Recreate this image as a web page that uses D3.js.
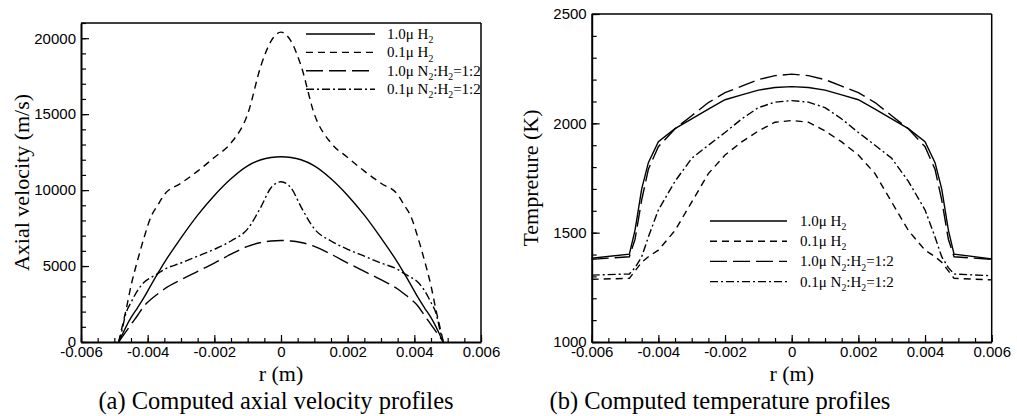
<!DOCTYPE html>
<html><head><meta charset="utf-8">
<script src="https://cdn.jsdelivr.net/npm/d3@7"></script>
<style>body{margin:0;background:#fff}svg{display:block}</style>
</head><body>
<svg id="c" width="1017" height="416"></svg>
<script>
// ---------- data ----------
const legendLabels = ["1.0μ H_2", "0.1μ H_2", "1.0μ N_2:H_2=1:2", "0.1μ N_2:H_2=1:2"];

const rV = [-0.00487,-0.0048,-0.00465,-0.0045,-0.0043,-0.0041,-0.0039,-0.0037,-0.0035,-0.003,-0.0025,-0.002,-0.0015,-0.001,-0.0006,-0.0003,0,
            0.0003,0.0006,0.001,0.0015,0.002,0.0025,0.003,0.0035,0.0037,0.0039,0.0041,0.0043,0.0045,0.00465,0.0048,0.00487];
const vel10H2 = [0,300,1000,1600,2270,2970,3750,4500,5230,6850,8350,9650,10750,11600,12000,12150,12200,
                 12150,12000,11600,10750,9650,8350,6850,5230,4500,3750,2970,2270,1600,1000,300,0];
const vel01H2 = [0,680,2100,3700,5400,6930,8250,9000,9700,10450,11250,12150,13100,15000,18200,19800,20400,
                 19800,18200,15000,13100,12150,11250,10450,9700,9000,8250,6930,5400,3700,2100,680,0];
const vel10N2 = [0,220,680,1150,1760,2390,2810,3160,3490,4100,4650,5200,5780,6300,6550,6650,6680,
                 6650,6550,6300,5780,5200,4650,4100,3490,3160,2810,2390,1760,1150,680,220,0];
const vel01N2 = [0,500,1900,2600,3400,3950,4250,4500,4780,5200,5650,6100,6650,7450,8900,10150,10550,
                 10150,8900,7450,6650,6100,5650,5200,4780,4500,4250,3950,3400,2600,1900,500,0];

const rT = [-0.006,-0.00487,-0.0047,-0.0045,-0.0043,-0.004,-0.0035,-0.003,-0.0025,-0.002,-0.0015,-0.001,-0.0005,0,
            0.0005,0.001,0.0015,0.002,0.0025,0.003,0.0035,0.004,0.0043,0.0045,0.0047,0.00487,0.006];
const temp10H2 = [1383,1402,1512,1700,1820,1916,1976,2020,2065,2108,2130,2152,2164,2168,
                  2164,2152,2130,2108,2065,2020,1976,1916,1820,1700,1512,1402,1380];
const temp01H2 = [1287,1291,1325,1365,1390,1420,1510,1640,1770,1855,1915,1965,2005,2013,
                  2005,1965,1915,1855,1770,1640,1510,1420,1390,1365,1325,1291,1284];
const temp10N2 = [1378,1390,1470,1650,1790,1893,1975,2035,2095,2140,2170,2200,2218,2225,
                  2218,2200,2170,2140,2095,2035,1975,1893,1790,1650,1470,1390,1378];
const temp01N2 = [1306,1311,1340,1390,1480,1604,1735,1840,1900,1958,2020,2072,2097,2104,
                  2097,2072,2020,1958,1900,1840,1735,1604,1480,1390,1340,1311,1303];

const xTickLabels = [-0.006,-0.004,-0.002,0,0.002,0.004,0.006];
const velTicks = [0,5000,10000,15000,20000];
const tempTicks = [1000,1500,2000,2500];

// ---------- drawing ----------
const svg = d3.select("#c");
const serif = "'Liberation Serif','Times New Roman',Times,serif";
const sans = "'Liberation Sans',Arial,Helvetica,sans-serif";
const dashes = [null, "7,5", "17,6", "8,3,2,3"];

function addLabel(sel, label, size) {
  const parts = label.split(/_(\d)/);
  let sub = false;
  parts.forEach((p, i) => {
    if (p === "") return;
    const isSub = i % 2 === 1;
    const t = sel.append("tspan").text(p);
    if (isSub) { t.attr("font-size", size * 0.65).attr("dy", size * 0.28); sub = true; }
    else if (sub) { t.attr("dy", -size * 0.28); sub = false; }
  });
}

function panel(o) {
  const g = svg.append("g");
  const x = d3.scaleLinear().domain([-0.006, 0.006]).range([o.x0, o.x1]);
  const y = d3.scaleLinear().domain(o.yDomain).range([o.y0, o.y1]);

  // frame top/right
  g.append("line").attr("x1", o.x0).attr("x2", o.x1).attr("y1", o.y1).attr("y2", o.y1)
    .attr("stroke", "#000").attr("stroke-width", 1.5);
  g.append("line").attr("x1", o.x1).attr("x2", o.x1).attr("y1", o.y1).attr("y2", o.y0)
    .attr("stroke", "#000").attr("stroke-width", 1.5);

  // minor ticks
  const xMinor = d3.range(-0.006, 0.00601, 0.0005);
  g.append("g").attr("transform", `translate(0,${o.y0})`)
    .call(d3.axisBottom(x).tickValues(xMinor).tickSize(-4).tickFormat(""))
    .call(a => a.select(".domain").remove());
  g.append("g").attr("transform", `translate(${o.x0},0)`)
    .call(d3.axisLeft(y).tickValues(o.yMinor).tickSize(-5).tickFormat(""))
    .call(a => a.select(".domain").remove());

  // major axes
  const xa = g.append("g").attr("transform", `translate(0,${o.y0})`)
    .call(d3.axisBottom(x).tickValues(xTickLabels).tickSize(-7).tickPadding(4)
      .tickSizeOuter(0).tickFormat(d => d === 0 ? "0" : d.toFixed(3)));
  const ya = g.append("g").attr("transform", `translate(${o.x0},0)`)
    .call(d3.axisLeft(y).tickValues(o.yTicks).tickSize(-8).tickPadding(5).tickSizeOuter(0).tickFormat(d => String(d)));
  [xa, ya].forEach(a => {
    a.select(".domain").attr("stroke-width", 2);
    a.selectAll("text").attr("font-family", sans).attr("font-size", 15).attr("fill", "#000");
  });
  g.selectAll(".tick line").attr("stroke-width", 1.2);

  // curves
  const line = d3.line().x(d => x(d[0])).y(d => y(d[1])).curve(o.curve);
  o.series.forEach((vals, i) => {
    const pts = o.r.map((r, k) => [r, vals[k]]);
    g.append("path").attr("d", line(pts)).attr("fill", "none").attr("stroke", "#000")
      .attr("stroke-width", 1.4).attr("stroke-dasharray", dashes[i]);
  });

  // legend
  legendLabels.forEach((lab, i) => {
    const ly = o.leg.y + i * o.leg.dy;
    g.append("line").attr("x1", o.leg.x1).attr("x2", o.leg.x2).attr("y1", ly).attr("y2", ly)
      .attr("stroke", "#000").attr("stroke-width", 1.4).attr("stroke-dasharray", dashes[i]);
    const t = g.append("text").attr("x", o.leg.tx).attr("y", ly + 5)
      .attr("font-family", serif).attr("font-size", 15);
    addLabel(t, lab, 15);
  });

  // axis titles
  g.append("text").attr("x", (o.x0 + o.x1) / 2).attr("y", 381).attr("text-anchor", "middle")
    .attr("font-family", serif).attr("font-size", 22).text("r (m)");
  g.append("text").attr("transform", `translate(${o.ytx},${(o.y0 + o.y1) / 2}) rotate(-90)`)
    .attr("text-anchor", "middle").attr("font-family", serif).attr("font-size", 22).text(o.yTitle);
  g.append("text").attr("x", o.capX).attr("y", 409).attr("text-anchor", "middle")
    .attr("font-family", serif).attr("font-size", 24.5).text(o.caption);
}

panel({
  x0: 81, x1: 481, y0: 342, y1: 23, yDomain: [0, 21000],
  yTicks: velTicks, yMinor: d3.range(0, 21001, 1000),
  r: rV, series: [vel10H2, vel01H2, vel10N2, vel01N2], curve: d3.curveMonotoneX,
  leg: { x1: 306, x2: 375, tx: 387, y: 34, dy: 18.4 },
  ytx: 29, yTitle: "Axial velocity (m/s)",
  capX: 276, caption: "(a) Computed axial velocity profiles"
});
panel({
  x0: 591.7, x1: 991.7, y0: 342, y1: 14, yDomain: [1000, 2500],
  yTicks: tempTicks, yMinor: d3.range(1000, 2501, 100),
  r: rT, series: [temp10H2, temp01H2, temp10N2, temp01N2], curve: d3.curveLinear,
  leg: { x1: 710, x2: 787, tx: 800, y: 221, dy: 20.2 },
  ytx: 538, yTitle: "Tempreture (K)",
  capX: 720, caption: "(b) Computed temperature profiles"
});
</script>
</body></html>
